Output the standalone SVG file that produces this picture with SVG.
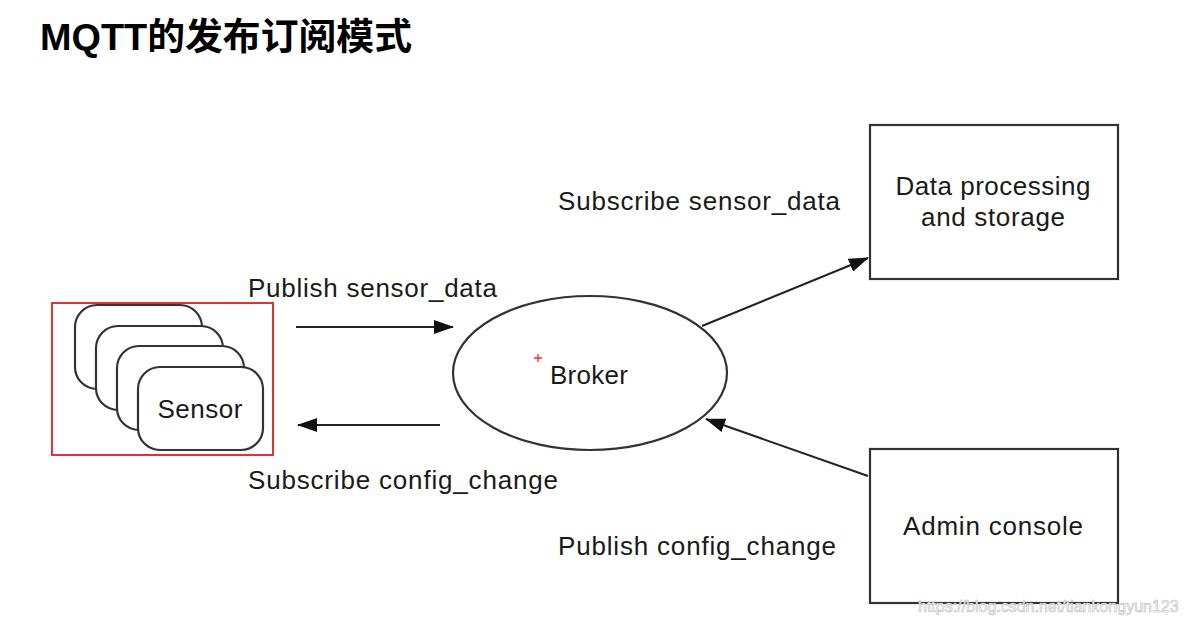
<svg xmlns="http://www.w3.org/2000/svg" width="1188" height="624" viewBox="0 0 1188 624">
<style>
.t{font-family:"Liberation Sans",Arial,sans-serif;font-size:26px;fill:#1a1a1a}
.b{fill:#fff;stroke:#333;stroke-width:2.2}
.c{stroke:#222;stroke-width:2;fill:none}
</style>
<defs>
<marker id="ah" viewBox="0 0 20 14" refX="19" refY="7" markerWidth="20" markerHeight="14" markerUnits="userSpaceOnUse" orient="auto">
<path d="M0,0 L20,7 L0,14 Z" fill="#111"/>
</marker>
</defs>
<rect width="1188" height="624" fill="#fff"/>
<text x="40" y="50" textLength="372" lengthAdjust="spacingAndGlyphs" style="font-family:'Liberation Sans','Noto Sans CJK SC',sans-serif;font-size:37px;font-weight:bold;fill:#000">MQTT的发布订阅模式</text>
<g id="sensor">
<rect x="52" y="303" width="221" height="152" fill="none" stroke="#e0352b" stroke-width="2"/>
<rect class="b" x="75" y="305" width="127" height="84" rx="22"/>
<rect class="b" x="96" y="326" width="127" height="84" rx="22"/>
<rect class="b" x="117" y="346" width="127" height="84" rx="22"/>
<rect class="b" x="138" y="367" width="125" height="83" rx="22"/>
<text class="t" x="200" y="418" text-anchor="middle" textLength="85">Sensor</text>
</g>
<g id="broker">
<ellipse class="b" cx="590" cy="373" rx="137" ry="77"/>
<path d="M534,358 h8 M538,354 v8" stroke="#e0352b" stroke-width="1.3"/>
<text class="t" x="550" y="384" textLength="78">Broker</text>
</g>
<g id="data">
<rect class="b" x="870" y="125" width="248" height="154"/>
<text class="t" x="993" y="195" text-anchor="middle" textLength="195">Data processing</text>
<text class="t" x="993" y="226" text-anchor="middle" textLength="144">and storage</text>
</g>
<g id="admin">
<rect class="b" x="870" y="449" width="248" height="154"/>
<text class="t" x="993" y="535" text-anchor="middle" textLength="180">Admin console</text>
</g>
<g id="connectors">
<line class="c" x1="296" y1="327" x2="453" y2="327" marker-end="url(#ah)"/>
<line class="c" x1="440" y1="425" x2="298" y2="425" marker-end="url(#ah)"/>
<line class="c" x1="702" y1="326" x2="868" y2="258" marker-end="url(#ah)"/>
<line class="c" x1="868" y1="476" x2="706" y2="419" marker-end="url(#ah)"/>
<text class="t" x="248" y="297" textLength="249">Publish sensor_data</text>
<text class="t" x="248" y="489" textLength="310">Subscribe config_change</text>
<text class="t" x="558" y="210" textLength="282">Subscribe sensor_data</text>
<text class="t" x="558" y="555" textLength="278">Publish config_change</text>
</g>
<text x="918" y="612" style="font-family:'Liberation Sans',Arial,sans-serif;font-size:16px;fill:#fff;stroke:#bbb;stroke-width:0.6">https://blog.csdn.net/tiankongyun123</text>
</svg>
